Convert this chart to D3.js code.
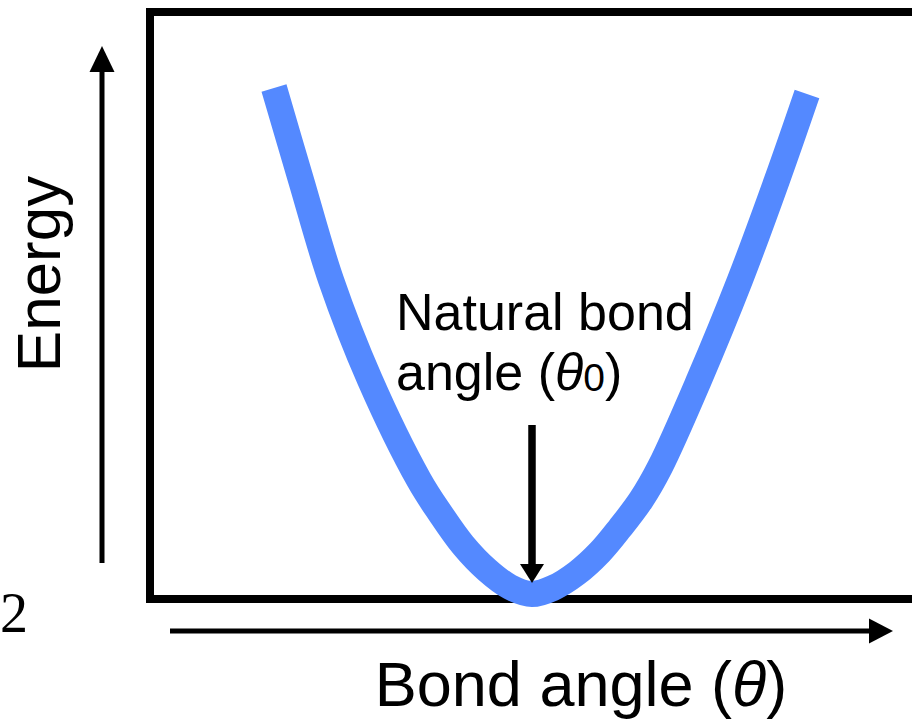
<!DOCTYPE html>
<html>
<head>
<meta charset="utf-8">
<script src="https://cdn.jsdelivr.net/npm/d3@7"></script>
<style>
  html, body { margin: 0; padding: 0; background: #fff; }
  svg { display: block; font-family: "Liberation Sans", Arial, sans-serif; }
</style>
</head>
<body>
<div id="container"></div>
<script>
// bond angle (arbitrary units) vs energy (arbitrary units)
const theta = [15.5, 18.875, 22.625, 27.5, 33.625, 36.25, 39.125, 42.125, 45, 47.75,
  50.375, 53.375, 56.25, 58.75, 61.375, 63.75, 68.625, 73.75, 78.375, 82.125];
const energy = [101.2, 82.8, 62.8, 42.8, 22.8, 16.2, 9.8, 4.8, 1.4, 0,
  1.2, 4.2, 8.4, 13.2, 18.8, 25.4, 42.8, 62.8, 82.8, 100];
const theta0 = 47.75;

const xLabel = "Bond angle (";
const yLabel = "Energy";
const noteLines = ["Natural bond", "angle ("];
const cornerText = "2";

const width = 912;
const height = 719;
const box = { left: 150, top: 12, right: 950, bottom: 599 };

const x = d3.scaleLinear().domain([0, 100]).range([box.left, box.right]);
const y = d3.scaleLinear().domain([0, 100]).range([594, 94]);

const svg = d3
  .select("#container")
  .append("svg")
  .attr("width", width)
  .attr("height", height);

// frame
svg
  .append("rect")
  .attr("x", box.left)
  .attr("y", box.top)
  .attr("width", box.right - box.left)
  .attr("height", box.bottom - box.top)
  .attr("fill", "none")
  .attr("stroke", "#000")
  .attr("stroke-width", 8);

// energy curve
const points = theta.map((t, i) => [t, energy[i]]);
const line = d3
  .line()
  .x((d) => x(d[0]))
  .y((d) => y(d[1]))
  .curve(d3.curveCatmullRom.alpha(0.5));

svg
  .append("path")
  .datum(points)
  .attr("d", line)
  .attr("fill", "none")
  .attr("stroke", "#5489ff")
  .attr("stroke-width", 26)
  .attr("stroke-linecap", "butt");

// arrow helper: line from (x1,y1) to tip (x2,y2)
function arrow(x1, y1, x2, y2, lw, headLen, headHalf) {
  const dx = x2 - x1, dy = y2 - y1;
  const len = Math.hypot(dx, dy);
  const ux = dx / len, uy = dy / len;
  const bx = x2 - ux * headLen, by = y2 - uy * headLen;
  svg
    .append("line")
    .attr("x1", x1)
    .attr("y1", y1)
    .attr("x2", bx + ux * 2)
    .attr("y2", by + uy * 2)
    .attr("stroke", "#000")
    .attr("stroke-width", lw);
  svg
    .append("path")
    .attr("d", d3.line()([
      [x2, y2],
      [bx - uy * headHalf, by + ux * headHalf],
      [bx + uy * headHalf, by - ux * headHalf],
    ]) + "Z")
    .attr("fill", "#000");
}

// axis arrows
arrow(102, 563, 102, 46, 5, 26, 12.5);
arrow(170, 631, 893, 631, 5, 24, 12.5);

// arrow to the minimum
arrow(x(theta0), 425, x(theta0), y(0) - 11, 7.5, 19, 12);

// axis labels
svg
  .append("text")
  .attr("transform", "translate(60,274) rotate(-90)")
  .attr("text-anchor", "middle")
  .attr("font-size", 62)
  .text(yLabel);

const xl = svg
  .append("text")
  .attr("x", 581)
  .attr("y", 706)
  .attr("text-anchor", "middle")
  .attr("font-size", 63);
xl.append("tspan").text(xLabel);
xl.append("tspan").attr("font-style", "italic").text("θ");
xl.append("tspan").text(")");

// annotation
svg
  .append("text")
  .attr("x", 396)
  .attr("y", 330)
  .attr("font-size", 52)
  .text(noteLines[0]);

const n2 = svg
  .append("text")
  .attr("x", 396)
  .attr("y", 390)
  .attr("font-size", 52);
n2.append("tspan").text(noteLines[1]);
n2.append("tspan").attr("font-style", "italic").text("θ");
n2.append("tspan").attr("font-size", 39).attr("dy", 1).text("0");
n2.append("tspan").attr("dy", -1).text(")");

// stray page number
svg
  .append("text")
  .attr("x", 0)
  .attr("y", 632)
  .attr("font-family", "Liberation Serif, Times New Roman, serif")
  .attr("font-size", 56)
  .text(cornerText);
</script>
</body>
</html>
